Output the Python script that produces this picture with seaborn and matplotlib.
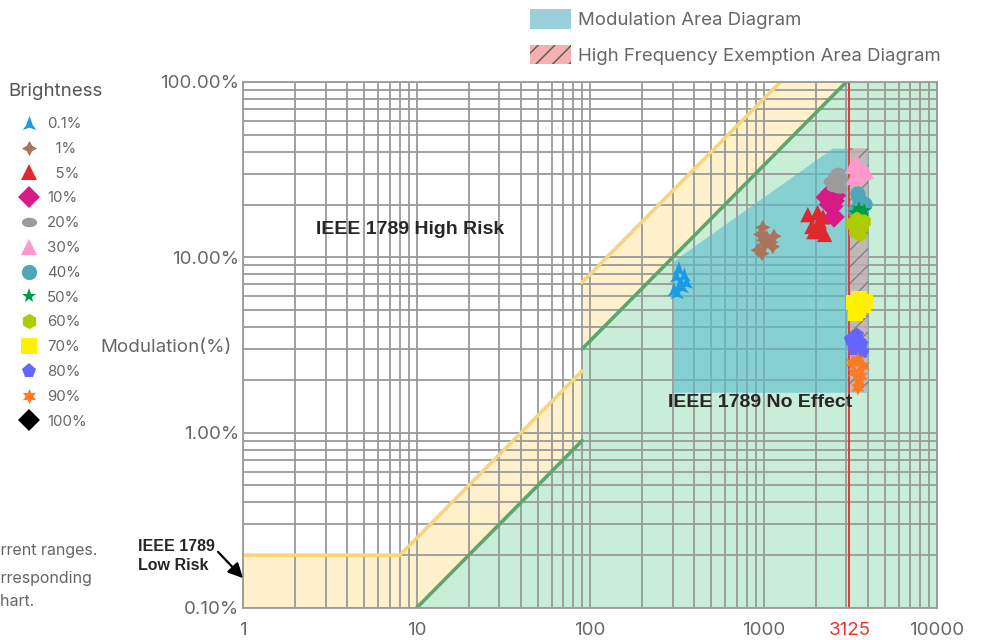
import numpy as np
import pandas as pd
import matplotlib
matplotlib.use('Agg')
import matplotlib.pyplot as plt
import seaborn as sns
from matplotlib.lines import Line2D
from matplotlib.patches import Patch
from matplotlib.ticker import LogLocator, NullFormatter

### IEEE 1789 boundaries (frequency in Hz, modulation in %)
low_risk_f = [1, 8, 90, 90, 1250, 10000]
low_risk_m = [0.2, 0.2, 2.25, 7.2, 100, 100]
no_effect_f = [10, 90, 90, 3000, 10000]
no_effect_m = [0.1, 0.9, 3.0, 100, 100]

### modulation area + high frequency exemption area
area_f = [300, 2500, 4000]
area_top = [9.5, 42, 42]
area_bottom = 1.7
exempt_f = [3125, 4000]
exempt_top = 42

### measured points for each brightness level (Hz, %)
pts_01 = [(305, 6.5), (315, 7.8), (325, 8.6), (330, 7.0), (340, 6.8), (350, 7.9), (360, 7.2), (318, 6.3)]
pts_1 = [(930, 11), (960, 13.5), (990, 14.8), (1000, 12.5), (1020, 11.8), (1040, 13), (1100, 12.2),
         (1150, 13.2), (1130, 11.5), (980, 10.5)]
pts_5 = [(1800, 17.5), (1900, 15), (1950, 14), (2050, 18), (2100, 16), (2150, 14.5), (2200, 17), (2250, 13.5)]
pts_10 = [(2300, 22), (2450, 23.5), (2550, 21), (2600, 22.5), (2500, 19.5), (2400, 20), (2550, 17)]
pts_20 = [(2450, 27), (2600, 29), (2700, 30.5), (2800, 28), (2650, 26), (2550, 25), (2750, 24.5)]
pts_30 = [(3250, 33), (3450, 35), (3600, 32), (3800, 30.5), (3500, 29), (3300, 28.5), (3900, 31)]
pts_40 = [(3500, 23), (3600, 21), (3700, 19.5), (3400, 18.5), (3850, 20)]
pts_50 = [(3350, 18), (3550, 19), (3700, 17.5), (3500, 17), (3800, 18.5)]
pts_60 = [(3250, 15.5), (3450, 16.5), (3700, 15), (3400, 14), (3600, 13.5), (3800, 16)]
pts_70 = [(3300, 5.5), (3550, 5.8), (3750, 5.3), (3400, 4.8), (3850, 5.6), (3500, 5.0)]
pts_80 = [(3200, 3.4), (3450, 3.6), (3650, 3.2), (3350, 3.0), (3700, 2.9), (3550, 3.3)]
pts_90 = [(3250, 2.5), (3500, 2.6), (3750, 2.4), (3350, 2.2), (3650, 2.1), (3550, 1.95), (3500, 1.8)]
pts_100 = []

levels = ['0.1%', '1%', '5%', '10%', '20%', '30%', '40%', '50%', '60%', '70%', '80%', '90%', '100%']
legend_labels = ['0.1%', '  1%', '  5%', '10%', '20%', '30%', '40%', '50%', '60%', '70%', '80%', '90%', '100%']
point_sets = [pts_01, pts_1, pts_5, pts_10, pts_20, pts_30, pts_40, pts_50, pts_60, pts_70, pts_80, pts_90, pts_100]
colors = ['#1A9BE6', '#A9755A', '#E0262E', '#D81B84', '#9B9B9B', '#FF99CC', '#4FA8B8',
          '#009A44', '#ADCC00', '#FFF100', '#6666FF', '#FF7A22', '#000000']

# marker shapes
t = np.linspace(0, 2 * np.pi, 40)
ellipse = np.column_stack([np.cos(t), 0.62 * np.sin(t)])
arrowhead = np.array([(0, 1), (-0.45, -0.25), (-0.9, -0.85), (0, -0.55), (0.9, -0.85), (0.45, -0.25), (0, 1)])
markers = [arrowhead, (4, 1, 0), '^', 'D', ellipse, '^', 'o', '*', 'h', 's', 'p', (6, 1, 0), 'D']

df = pd.concat([pd.DataFrame(p, columns=['freq', 'mod']).assign(level=lv)
                for lv, p in zip(levels, point_sets) if p], ignore_index=True)
present = [lv for lv in levels if lv in set(df['level'])]
palette = {lv: c for lv, c in zip(levels, colors) if lv in present}
marker_map = {lv: m for lv, m in zip(levels, markers) if lv in present}

sns.set_style('white')
plt.rcParams['font.family'] = ['Inter', 'DejaVu Sans']

fig = plt.figure(figsize=(9.84, 6.4), dpi=100)
ax = fig.add_axes([243 / 984, 32 / 640, 694 / 984, 526 / 640])
ax.set_xscale('log')
ax.set_yscale('log')
ax.set_xlim(1, 10000)
ax.set_ylim(0.1, 100)

# background zones
ax.fill_between(low_risk_f, 0.1, low_risk_m, color='#FFF1CC', lw=0, zorder=0.1)
ax.fill_between(no_effect_f, 0.1, no_effect_m, color='#C8EED7', lw=0, zorder=0.2)

ax.set_axisbelow(True)
ax.xaxis.set_minor_locator(LogLocator(base=10, subs=np.arange(2, 10), numticks=20))
ax.yaxis.set_minor_locator(LogLocator(base=10, subs=np.arange(2, 10), numticks=20))
ax.xaxis.set_minor_formatter(NullFormatter())
ax.yaxis.set_minor_formatter(NullFormatter())
ax.grid(True, which='both', color='#9A9A9A', lw=1.3)

# modulation area and exemption area
ax.fill_between(area_f, area_bottom, area_top, color='#5BBCCF', alpha=0.6, lw=0, zorder=1)
ax.fill_between(exempt_f, area_bottom, exempt_top, facecolor='#F4A6A6', alpha=0.55,
                hatch='//', edgecolor='#555555', lw=0, zorder=1.1)

# boundary lines (vertical jump at 90 Hz is not drawn)
ax.plot(low_risk_f[:3], low_risk_m[:3], color='#F8D47C', lw=2.6, zorder=2)
ax.plot(low_risk_f[3:5], low_risk_m[3:5], color='#F8D47C', lw=2.6, zorder=2)
ax.plot(no_effect_f[:2], no_effect_m[:2], color='#5DA66D', lw=2.6, zorder=2)
ax.plot(no_effect_f[2:4], no_effect_m[2:4], color='#5DA66D', lw=2.6, zorder=2)
ax.axvline(3125, color='#E8352F', lw=1.3, zorder=2.5)

sns.scatterplot(data=df, x='freq', y='mod', hue='level', style='level', hue_order=present,
                style_order=present, palette=palette, markers=marker_map, s=120, linewidth=0,
                legend=False, ax=ax, zorder=3)

# axes, ticks
ax.set_xticks([1, 10, 100, 1000, 3125, 10000])
ax.set_xticklabels(['1', '10', '100', '1000', '3125', '10000'])
ax.get_xticklabels()[4].set_color('#E8352F')
ax.set_yticks([0.1, 1, 10, 100])
ax.set_yticklabels(['0.10%', '1.00%', '10.00%', '100.00%'])
ax.tick_params(axis='x', which='major', length=5, width=1.2, color='#9A9A9A', labelsize=13.5, pad=5)
ax.tick_params(axis='y', which='major', length=0, labelsize=13.5, pad=3)
ax.tick_params(which='minor', length=0)
for lab in ax.get_yticklabels() + ax.get_xticklabels():
    if lab.get_text() != '3125':
        lab.set_color('#666666')
for sp in ax.spines.values():
    sp.set_color('#9A9A9A')
    sp.set_linewidth(1.3)
ax.set_xlabel('')
ax.set_ylabel('Modulation(%)', rotation=0, ha='right', va='center', fontsize=13.5, color='#666666')
ax.yaxis.set_label_coords(-0.016, 0.496)

# zone captions
ax.text(9.17, 14.5, 'IEEE 1789 High Risk', family='Liberation Sans', weight='bold', fontsize=14,
        ha='center', va='center', zorder=4)
ax.text(955, 1.477, 'IEEE 1789 No Effect', family='Liberation Sans', weight='bold', fontsize=14,
        ha='center', va='center', zorder=4)
ax.text(0.411, 0.198, 'IEEE 1789\nLow Risk', family='Liberation Sans', weight='bold', fontsize=11.5,
        ha='center', va='center', multialignment='left', linespacing=1.3, clip_on=False)
ax.annotate('', xy=(1.0, 0.148), xytext=(0.718, 0.209), annotation_clip=False,
            arrowprops=dict(arrowstyle='-|>', color='black', lw=1.6, mutation_scale=22, shrinkA=0, shrinkB=0))

# brightness legend
fig.text(8 / 984, 1 - 91 / 640, 'Brightness', fontsize=13.5, color='#555555', va='center')
handles = [Line2D([], [], ls='none', marker=m, markersize=11, color=c, markeredgewidth=0)
           for m, c in zip(markers, colors)]
fig.legend(handles, legend_labels, loc='upper left', bbox_to_anchor=(12 / 984, 1 - 111 / 640),
           frameon=False, fontsize=10.8, labelcolor='#666666', handlelength=1.4, handletextpad=0.55,
           labelspacing=0.72, borderpad=0.4, borderaxespad=0)

# area legend
area_handles = [Patch(facecolor='#9BCFDC', lw=0),
                Patch(facecolor='#F4B0B0', hatch='//', edgecolor='#555555', lw=0)]
fig.legend(area_handles, ['Modulation Area Diagram', 'High Frequency Exemption Area Diagram'],
           loc='upper left', bbox_to_anchor=(523 / 984, 1 - 2 / 640), frameon=False, fontsize=13.4,
           labelcolor='#666666', handlelength=2.2, handleheight=1.2, handletextpad=0.38,
           labelspacing=0.85, borderaxespad=0)

# note text cut off by the left figure edge
fig.text(97 / 984, 1 - 550 / 640, 'current ranges.', ha='right', va='center', fontsize=11.5, color='#666666')
fig.text(92 / 984, 1 - 578 / 640, 'corresponding', ha='right', va='center', fontsize=11.5, color='#666666')
fig.text(35 / 984, 1 - 601 / 640, 'chart.', ha='right', va='center', fontsize=11.5, color='#666666')

fig.savefig('out.png', dpi=100)
